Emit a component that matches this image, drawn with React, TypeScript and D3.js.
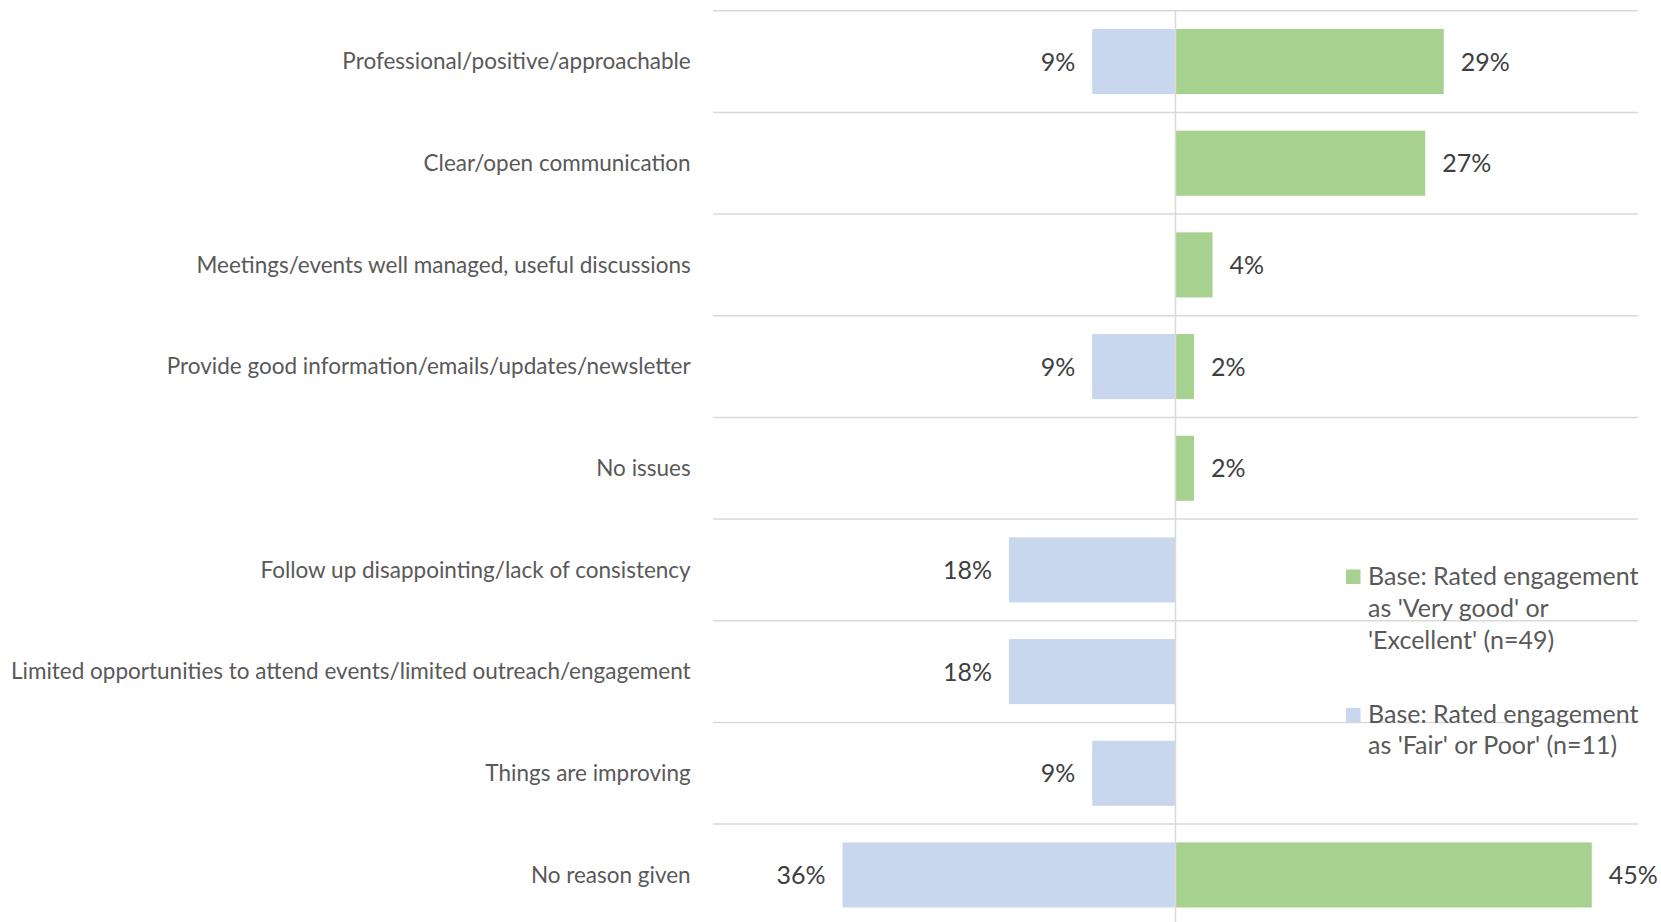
import React from "react";
import * as d3 from "d3";

const categories = [
  "Professional/positive/approachable",
  "Clear/open communication",
  "Meetings/events well managed, useful discussions",
  "Provide good information/emails/updates/newsletter",
  "No issues",
  "Follow up disappointing/lack of consistency",
  "Limited opportunities to attend events/limited outreach/engagement",
  "Things are improving",
  "No reason given",
];

// Base: Rated engagement as 'Very good' or 'Excellent' (n=49)
const goodValues: (number | null)[] = [29, 27, 4, 2, 2, null, null, null, 45];
// Base: Rated engagement as 'Fair' or Poor' (n=11)
const poorValues: (number | null)[] = [9, null, null, 9, null, 18, 18, 9, 36];

const legendGood = ["Base: Rated engagement", "as 'Very good' or", "'Excellent' (n=49)"];
const legendPoor = ["Base: Rated engagement", "as 'Fair' or Poor' (n=11)"];

const GREEN = "#a6d18f";
const BLUE = "#c8d7ed";
const GRID = "#d9d9d9";
const FONT = "Lato, 'Open Sans', sans-serif";

export default function App() {
  const W = 1661;
  const H = 922;
  const x = d3.scaleLinear().domain([-50, 50]).range([713, 1638]);
  const y = d3
    .scaleBand<string>()
    .domain(categories)
    .range([10.7, 925.8])
    .paddingInner(0.36)
    .paddingOuter(0.18);
  const step = y.step();
  const top = y.range()[0];
  const gridYs = d3.range(categories.length + 1).map((i) => top + i * step);
  const labelSize = 22.5;
  const valueSize = 25;

  return (
    <svg
      width={W}
      height={H}
      style={{ position: "absolute", left: 0, top: 0, background: "#fff" }}
      fontFamily={FONT}
    >
      {gridYs.map((gy, i) => (
        <line key={"g" + i} x1={x(-50)} x2={x(50)} y1={gy} y2={gy} stroke={GRID} strokeWidth={1.5} />
      ))}
      {categories.map((c, i) => {
        const by = y(c)!;
        const bh = y.bandwidth();
        const cy = by + bh / 2;
        const g = goodValues[i];
        const p = poorValues[i];
        return (
          <g key={c}>
            <text x={690.7} y={cy} dy="0.35em" textAnchor="end" fontSize={labelSize} fill="#595959">
              {c}
            </text>
            {p != null && (
              <>
                <rect x={x(-p)} y={by} width={x(0) - x(-p)} height={bh} fill={BLUE} />
                <text x={x(-p) - 17} y={cy} dy="0.36em" textAnchor="end" fontSize={valueSize} fill="#404040">
                  {p}%
                </text>
              </>
            )}
            {g != null && (
              <>
                <rect x={x(0)} y={by} width={x(g) - x(0)} height={bh} fill={GREEN} />
                <text x={x(g) + 17} y={cy} dy="0.36em" textAnchor="start" fontSize={valueSize} fill="#404040">
                  {g}%
                </text>
              </>
            )}
          </g>
        );
      })}
      <line x1={x(0)} x2={x(0)} y1={top} y2={H} stroke={GRID} strokeWidth={1.5} />
      <g>
        <rect x={1346} y={569.5} width={14.5} height={14.5} fill={GREEN} />
        <text x={1368} y={585} fontSize={valueSize} fill="#595959">
          {legendGood.map((l, i) => (
            <tspan key={i} x={1368} dy={i === 0 ? 0 : 32}>
              {l}
            </tspan>
          ))}
        </text>
        <rect x={1346} y={708} width={14.5} height={14.5} fill={BLUE} />
        <text x={1368} y={723} fontSize={valueSize} fill="#595959">
          {legendPoor.map((l, i) => (
            <tspan key={i} x={1368} dy={i === 0 ? 0 : 31}>
              {l}
            </tspan>
          ))}
        </text>
      </g>
    </svg>
  );
}
